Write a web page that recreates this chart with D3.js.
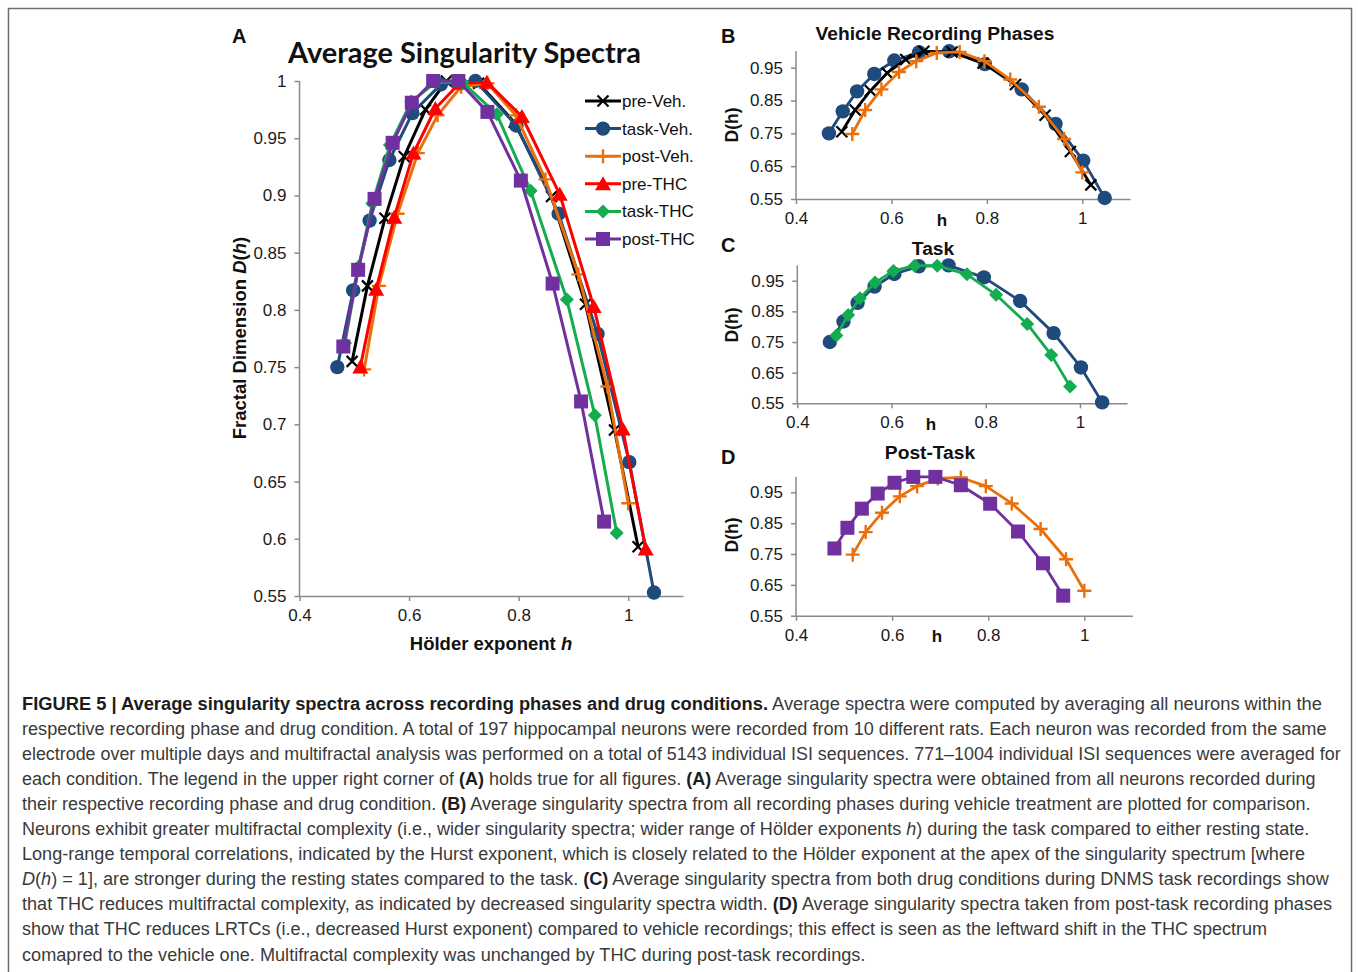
<!DOCTYPE html>
<html>
<head>
<meta charset="utf-8">
<script src="https://cdn.jsdelivr.net/npm/d3@7"></script>
<style>
  html, body { margin: 0; padding: 0; background: #fff; }
  svg { display: block; }
</style>
</head>
<body>
<svg id="fig" width="1358" height="972"></svg>
<script>
// ---- Data: average singularity spectra (Hölder exponent h, fractal dimension D(h)) ----
const seriesNames = ["pre-Veh.", "task-Veh.", "post-Veh.", "pre-THC", "task-THC", "post-THC"];

const preVehH  = [0.496, 0.524, 0.556, 0.591, 0.630, 0.668, 0.727, 0.792, 0.860, 0.922, 0.975, 1.018];
const preVehD  = [0.755, 0.821, 0.880, 0.934, 0.975, 1.000, 0.998, 0.964, 0.899, 0.805, 0.695, 0.593];

const taskVehH = [0.469, 0.498, 0.528, 0.564, 0.606, 0.658, 0.721, 0.796, 0.873, 0.944, 1.002, 1.047];
const taskVehD = [0.750, 0.817, 0.878, 0.931, 0.972, 0.997, 1.000, 0.961, 0.884, 0.779, 0.667, 0.553];

const postVehH = [0.518, 0.545, 0.579, 0.616, 0.652, 0.695, 0.743, 0.795, 0.849, 0.909, 0.962, 1.000];
const postVehD = [0.748, 0.821, 0.884, 0.937, 0.970, 0.995, 0.998, 0.970, 0.914, 0.831, 0.733, 0.631];

const preTHCH  = [0.511, 0.540, 0.573, 0.608, 0.648, 0.692, 0.742, 0.806, 0.875, 0.937, 0.990, 1.032];
const preTHCD  = [0.750, 0.818, 0.881, 0.937, 0.976, 0.998, 0.999, 0.969, 0.901, 0.803, 0.696, 0.591];

const taskTHCH = [0.483, 0.508, 0.533, 0.565, 0.604, 0.649, 0.697, 0.760, 0.822, 0.888, 0.939, 0.979];
const taskTHCD = [0.771, 0.838, 0.893, 0.944, 0.982, 0.999, 0.999, 0.971, 0.904, 0.809, 0.708, 0.605];

const postTHCH = [0.480, 0.507, 0.537, 0.570, 0.605, 0.644, 0.690, 0.743, 0.804, 0.862, 0.914, 0.956];
const postTHCD = [0.768, 0.835, 0.897, 0.946, 0.981, 1.000, 1.000, 0.973, 0.913, 0.823, 0.720, 0.615];

// Axis tick values
const hTicks = [0.4, 0.6, 0.8, 1];
const dTicksMain = [0.55, 0.6, 0.65, 0.7, 0.75, 0.8, 0.85, 0.9, 0.95, 1];
const dTicksSmall = [0.55, 0.65, 0.75, 0.85, 0.95];

// Panel groupings (which series each panel shows)
const panelASeries = ["pre-Veh.", "task-Veh.", "post-Veh.", "pre-THC", "task-THC", "post-THC"];
const panelBSeries = ["task-Veh.", "pre-Veh.", "post-Veh."];
const panelCSeries = ["task-Veh.", "task-THC"];
const panelDSeries = ["post-Veh.", "post-THC"];

// ---- Build series records ----
const seriesData = {
  "pre-Veh.":  d3.zip(preVehH, preVehD),
  "task-Veh.": d3.zip(taskVehH, taskVehD),
  "post-Veh.": d3.zip(postVehH, postVehD),
  "pre-THC":   d3.zip(preTHCH, preTHCD),
  "task-THC":  d3.zip(taskTHCH, taskTHCD),
  "post-THC":  d3.zip(postTHCH, postTHCD)
};

const seriesStyle = {
  "pre-Veh.":  { color: "#000000", marker: "x" },
  "task-Veh.": { color: "#1f4a7c", marker: "circle" },
  "post-Veh.": { color: "#ea700d", marker: "plus" },
  "pre-THC":   { color: "#ff0000", marker: "triangle" },
  "task-THC":  { color: "#13ac4e", marker: "diamond" },
  "post-THC":  { color: "#7030a0", marker: "square" }
};

const svg = d3.select("#fig");
const AXIS_COLOR = "#8a8a8a";
const FONT = "'Liberation Sans', Arial, Helvetica, sans-serif";

// Outer figure frame
svg.append("rect")
  .attr("x", 8.5).attr("y", 8.5)
  .attr("width", 1343).attr("height", 980)
  .attr("fill", "none").attr("stroke", "#6e6e6e").attr("stroke-width", 1.5);

// Marker glyph drawn at local origin
function drawMarker(g, type, color) {
  const p = d3.path();
  switch (type) {
    case "circle":
      g.append("circle").attr("r", 7.2).attr("fill", color);
      return;
    case "square":
      g.append("rect").attr("x", -7).attr("y", -7).attr("width", 14).attr("height", 14).attr("fill", color);
      return;
    case "triangle":
      p.moveTo(0, -7.5); p.lineTo(8, 6.5); p.lineTo(-8, 6.5); p.closePath();
      g.append("path").attr("d", p.toString()).attr("fill", color);
      return;
    case "diamond":
      p.moveTo(0, -7); p.lineTo(7, 0); p.lineTo(0, 7); p.lineTo(-7, 0); p.closePath();
      g.append("path").attr("d", p.toString()).attr("fill", color);
      return;
    case "x":
      p.moveTo(-5.5, -5.5); p.lineTo(5.5, 5.5); p.moveTo(5.5, -5.5); p.lineTo(-5.5, 5.5);
      g.append("path").attr("d", p.toString()).attr("stroke", color).attr("stroke-width", 2.2).attr("fill", "none");
      return;
    case "plus":
      p.moveTo(-7, 0); p.lineTo(7, 0); p.moveTo(0, -7); p.lineTo(0, 7);
      g.append("path").attr("d", p.toString()).attr("stroke", color).attr("stroke-width", 2.4).attr("fill", "none");
      return;
  }
}

// ---- Generic panel ----
function drawPanel(cfg) {
  const x = d3.scaleLinear().domain([0.4, 1.1]).range(cfg.xRange);
  const y = d3.scaleLinear().domain([0.55, 1]).range(cfg.yRange);
  const g = svg.append("g");
  const fmt = v => String(+v.toFixed(2));

  const yAxis = g.append("g")
    .attr("transform", `translate(${cfg.xRange[0]},0)`)
    .call(d3.axisLeft(y).tickValues(cfg.yTicks).tickFormat(fmt).tickSize(5).tickSizeOuter(0).tickPadding(8));
  const xAxis = g.append("g")
    .attr("transform", `translate(0,${cfg.yRange[0]})`)
    .call(d3.axisBottom(x).tickValues(hTicks).tickFormat(fmt).tickSize(5).tickSizeOuter(0).tickPadding(cfg.xPad));

  [yAxis, xAxis].forEach(ax => {
    ax.select(".domain").attr("stroke", AXIS_COLOR).attr("stroke-width", 1.5);
    ax.selectAll(".tick line").attr("stroke", AXIS_COLOR).attr("stroke-width", 1.5);
    ax.selectAll(".tick text").attr("fill", "#1a1a1a")
      .style("font-family", FONT).style("font-size", "17px");
  });
  // Extend the vertical axis up to the top of the domain
  yAxis.select(".domain").attr("d", `M0,${cfg.yRange[0]}V${cfg.yRange[1]}`);

  const line = d3.line().x(d => x(d[0])).y(d => y(d[1]));

  cfg.series.forEach(name => {
    const st = seriesStyle[name];
    const sg = g.append("g");
    sg.append("path")
      .datum(seriesData[name])
      .attr("d", line)
      .attr("fill", "none")
      .attr("stroke", st.color)
      .attr("stroke-width", cfg.lineWidth)
      .attr("stroke-linejoin", "round");
    sg.selectAll("g.mk")
      .data(seriesData[name])
      .join("g")
      .attr("class", "mk")
      .attr("transform", d => `translate(${x(d[0])},${y(d[1])})`)
      .each(function () { drawMarker(d3.select(this), st.marker, st.color); });
  });
  return { x, y, g };
}

// ---- Panel A ----
drawPanel({
  xRange: [299.5, 683], yRange: [596, 81],
  yTicks: dTicksMain, series: panelASeries, lineWidth: 3, xPad: 8
});

svg.append("text")
  .attr("x", 288).attr("y", 63)
  .attr("textLength", 353).attr("lengthAdjust", "spacingAndGlyphs")
  .style("font-family", "Lato, 'Open Sans', sans-serif").style("font-weight", 700)
  .style("font-size", "29px").attr("fill", "#111")
  .text("Average Singularity Spectra");

// Axis titles for A
const yTitleA = svg.append("text")
  .attr("transform", "translate(246,338) rotate(-90)")
  .attr("text-anchor", "middle")
  .style("font-family", FONT).style("font-weight", 700).style("font-size", "18.5px")
  .attr("fill", "#111");
yTitleA.append("tspan").text("Fractal Dimension ");
yTitleA.append("tspan").style("font-style", "italic").text("D");
yTitleA.append("tspan").text("(");
yTitleA.append("tspan").style("font-style", "italic").text("h");
yTitleA.append("tspan").text(")");

const xTitleA = svg.append("text")
  .attr("x", 491).attr("y", 649.5)
  .attr("text-anchor", "middle")
  .style("font-family", FONT).style("font-weight", 700).style("font-size", "18.5px")
  .attr("fill", "#111");
xTitleA.append("tspan").text("Hölder exponent ");
xTitleA.append("tspan").style("font-style", "italic").text("h");

// Legend for A
const legend = svg.append("g");
seriesNames.forEach((name, i) => {
  const st = seriesStyle[name];
  const ly = 101 + i * 27.6;
  const lg = legend.append("g").attr("transform", `translate(585,${ly})`);
  lg.append("line").attr("x1", 0).attr("x2", 36).attr("y1", 0).attr("y2", 0)
    .attr("stroke", st.color).attr("stroke-width", 3);
  drawMarker(lg.append("g").attr("transform", "translate(18,0)"), st.marker, st.color);
  lg.append("text").attr("x", 37).attr("y", 6)
    .style("font-family", FONT).style("font-size", "17px").attr("fill", "#111")
    .text(name);
});

// ---- Small panels B, C, D ----
const smallPanels = [
  { letter: "B", title: "Vehicle Recording Phases", series: panelBSeries,
    xRange: [796, 1130], yRange: [199, 51.3], letterY: 43, titleX: 935, titleY: 40,
    hX: 942, dY: 125, xPad: 8 },
  { letter: "C", title: "Task", series: panelCSeries,
    xRange: [797.3, 1127.1], yRange: [403.3, 265.4], letterY: 252, titleX: 933, titleY: 255,
    hX: 931, dY: 325, xPad: 8 },
  { letter: "D", title: "Post-Task", series: panelDSeries,
    xRange: [796, 1132.4], yRange: [615.7, 476.9], letterY: 464, titleX: 930, titleY: 459,
    hX: 937, dY: 535, xPad: 8 }
];

smallPanels.forEach(p => {
  drawPanel({ xRange: p.xRange, yRange: p.yRange, yTicks: dTicksSmall,
              series: p.series, lineWidth: 2.8, xPad: p.xPad });
  svg.append("text").attr("x", 721).attr("y", p.letterY)
    .style("font-family", FONT).style("font-weight", 700).style("font-size", "20px")
    .attr("fill", "#111").text(p.letter);
  svg.append("text").attr("x", p.titleX).attr("y", p.titleY).attr("text-anchor", "middle")
    .style("font-family", FONT).style("font-weight", 700).style("font-size", "19.2px")
    .attr("fill", "#111").text(p.title);
  svg.append("text").attr("x", p.hX).attr("y", p.yRange[0] + 26.5).attr("text-anchor", "middle")
    .style("font-family", FONT).style("font-weight", 700).style("font-size", "17px")
    .attr("fill", "#111").text("h");
  svg.append("text").attr("transform", `translate(738,${p.dY}) rotate(-90)`).attr("text-anchor", "middle")
    .style("font-family", FONT).style("font-weight", 700).style("font-size", "17.5px")
    .attr("fill", "#111").text("D(h)");
});

svg.append("text").attr("x", 232).attr("y", 43)
  .style("font-family", FONT).style("font-weight", 700).style("font-size", "20px")
  .attr("fill", "#111").text("A");

// ---- Caption ----
const captionLines = [
  [["b", "FIGURE 5 | Average singularity spectra across recording phases and drug conditions."], ["n", " Average spectra were computed by averaging all neurons within the"]],
  [["n", "respective recording phase and drug condition. A total of 197 hippocampal neurons were recorded from 10 different rats. Each neuron was recorded from the same"]],
  [["n", "electrode over multiple days and multifractal analysis was performed on a total of 5143 individual ISI sequences. 771–1004 individual ISI sequences were averaged for"]],
  [["n", "each condition. The legend in the upper right corner of "], ["b", "(A)"], ["n", " holds true for all figures. "], ["b", "(A)"], ["n", " Average singularity spectra were obtained from all neurons recorded during"]],
  [["n", "their respective recording phase and drug condition. "], ["b", "(B)"], ["n", " Average singularity spectra from all recording phases during vehicle treatment are plotted for comparison."]],
  [["n", "Neurons exhibit greater multifractal complexity (i.e., wider singularity spectra; wider range of Hölder exponents "], ["i", "h"], ["n", ") during the task compared to either resting state."]],
  [["n", "Long-range temporal correlations, indicated by the Hurst exponent, which is closely related to the Hölder exponent at the apex of the singularity spectrum [where"]],
  [["i", "D"], ["n", "("], ["i", "h"], ["n", ") = 1], are stronger during the resting states compared to the task. "], ["b", "(C)"], ["n", " Average singularity spectra from both drug conditions during DNMS task recordings show"]],
  [["n", "that THC reduces multifractal complexity, as indicated by decreased singularity spectra width. "], ["b", "(D)"], ["n", " Average singularity spectra taken from post-task recording phases"]],
  [["n", "show that THC reduces LRTCs (i.e., decreased Hurst exponent) compared to vehicle recordings; this effect is seen as the leftward shift in the THC spectrum"]],
  [["n", "comapred to the vehicle one. Multifractal complexity was unchanged by THC during post-task recordings."]]
];
const captionRightEdge = [1323, 1328, 1341, 1316, 1311, 1310, 1306, 1330, 1333, 1268, 866];

captionLines.forEach((segs, i) => {
  const t = svg.append("text")
    .attr("x", 0).attr("y", 0)
    .style("font-family", FONT).style("font-size", "18.5px")
    .attr("fill", "#3a3a3a");
  segs.forEach(([s, txt]) => {
    const ts = t.append("tspan").text(txt);
    if (s === "b") ts.style("font-weight", 700).attr("fill", "#1c1c1c");
    if (s === "i") ts.style("font-style", "italic");
  });
  const w = t.node().getComputedTextLength();
  const sx = (captionRightEdge[i] - 22) / w;
  t.attr("transform", `translate(22,${709.5 + i * 25.1}) scale(${sx},1)`);
});
</script>
</body>
</html>
